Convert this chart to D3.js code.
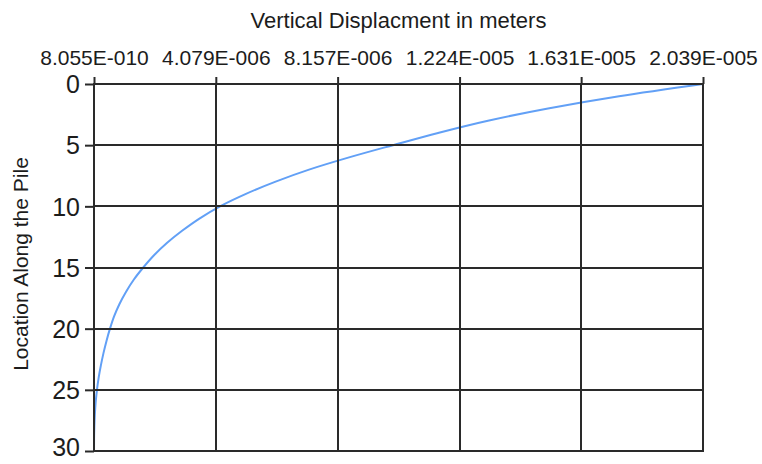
<!DOCTYPE html>
<html>
<head>
<meta charset="utf-8">
<script src="https://cdn.jsdelivr.net/npm/d3@7"></script>
<style>
  html, body { margin: 0; padding: 0; background: #ffffff; }
  svg { display: block; }
  text { font-family: "Liberation Sans", Arial, sans-serif; fill: #1c1c1c; }
</style>
</head>
<body>
<svg id="chart" width="762" height="464"></svg>
<script>
// Depth along the pile (m) and the vertical displacement at each depth (m)
const depths = [0, 1, 2, 3, 4, 5, 6, 7, 8, 9, 10, 11, 12, 13, 14, 15,
                16, 17, 18, 19, 20, 21, 22, 23, 24, 25, 26, 27, 28, 29, 30];
const displacements = [
  2.039e-5, 1.758e-5, 1.520e-5, 1.319e-5, 1.152e-5, 1.001e-5,
  8.54e-6, 7.20e-6, 6.06e-6, 5.07e-6, 4.22e-6,
  3.53e-6, 2.95e-6, 2.44e-6, 2.01e-6, 1.65e-6,
  1.33e-6, 1.07e-6, 8.50e-7, 6.73e-7, 5.36e-7,
  4.19e-7, 3.18e-7, 2.31e-7, 1.57e-7, 1.00e-7,
  5.7e-8, 3.0e-8, 1.3e-8, 3.4e-9, 8.055e-10
];

// Axis tick labels
const xTickLabels = ["8.055E-010", "4.079E-006", "8.157E-006", "1.224E-005", "1.631E-005", "2.039E-005"];
const yTickValues = [0, 5, 10, 15, 20, 25, 30];

const xTitle = "Vertical Displacment in meters";
const yTitle = "Location Along the Pile";

// Plot area
const plotLeft = 94, plotTop = 84, plotWidth = 609, plotHeight = 367;
const gridColor = "#2a2a2a";

const svg = d3.select("#chart");

const x = d3.scaleLinear()
  .domain([8.055e-10, 2.039e-5])
  .range([plotLeft, plotLeft + plotWidth]);

const y = d3.scaleLinear()
  .domain([0, 30])
  .range([plotTop, plotTop + plotHeight]);

const xTickValues = xTickLabels.map(Number);

// Series line
const line = d3.line()
  .x((d, i) => x(displacements[i]))
  .y(d => y(d))
  .curve(d3.curveMonotoneY);

svg.append("path")
  .datum(depths)
  .attr("d", line)
  .attr("fill", "none")
  .attr("stroke", "#62a0f6")
  .attr("stroke-width", 2);

// Grid lines
const grid = svg.append("g").attr("stroke", gridColor).attr("stroke-width", 2);
grid.selectAll("line.vx")
  .data(xTickValues)
  .join("line")
  .attr("class", "vx")
  .attr("x1", d => Math.round(x(d)))
  .attr("x2", d => Math.round(x(d)))
  .attr("y1", plotTop)
  .attr("y2", plotTop + plotHeight);
grid.selectAll("line.hy")
  .data(yTickValues)
  .join("line")
  .attr("class", "hy")
  .attr("x1", plotLeft)
  .attr("x2", plotLeft + plotWidth)
  .attr("y1", d => Math.round(y(d)))
  .attr("y2", d => Math.round(y(d)));

// Plot border
svg.append("rect")
  .attr("x", plotLeft)
  .attr("y", plotTop)
  .attr("width", plotWidth)
  .attr("height", plotHeight)
  .attr("fill", "none")
  .attr("stroke", gridColor)
  .attr("stroke-width", 2);

// Top axis
const xAxis = svg.append("g")
  .attr("transform", `translate(0,${plotTop})`)
  .call(d3.axisTop(x)
    .tickValues(xTickValues)
    .tickFormat((d, i) => xTickLabels[i])
    .tickSize(7)
    .tickSizeOuter(0));
xAxis.select(".domain").remove();
xAxis.selectAll(".tick line")
  .attr("stroke", gridColor)
  .attr("stroke-width", 2);
xAxis.selectAll(".tick text")
  .attr("y", -19)
  .attr("dy", null)
  .attr("font-size", 21)
  .attr("font-family", "Liberation Sans, Arial, sans-serif")
  .attr("fill", "#1c1c1c");

// Left axis
const yAxis = svg.append("g")
  .attr("transform", `translate(${plotLeft},0)`)
  .call(d3.axisLeft(y)
    .tickValues(yTickValues)
    .tickFormat(d3.format("d"))
    .tickSize(9)
    .tickPadding(5)
    .tickSizeOuter(0));
yAxis.select(".domain").remove();
yAxis.selectAll(".tick line")
  .attr("stroke", gridColor)
  .attr("stroke-width", 2);
// Labels are kept inside the chart area at both ends
yAxis.selectAll(".tick text")
  .attr("font-size", 25)
  .attr("font-family", "Liberation Sans, Arial, sans-serif")
  .attr("fill", "#1c1c1c")
  .attr("dy", "0.35em")
  .attr("y", d => {
    const py = y(d);
    return Math.min(Math.max(py, 72), 447) - py;
  });

// Axis titles
svg.append("text")
  .attr("x", plotLeft + plotWidth / 2)
  .attr("y", 28)
  .attr("text-anchor", "middle")
  .attr("font-size", 22)
  .text(xTitle);

svg.append("text")
  .attr("transform", `translate(28,264) rotate(-90)`)
  .attr("text-anchor", "middle")
  .attr("font-size", 21)
  .text(yTitle);
</script>
</body>
</html>
